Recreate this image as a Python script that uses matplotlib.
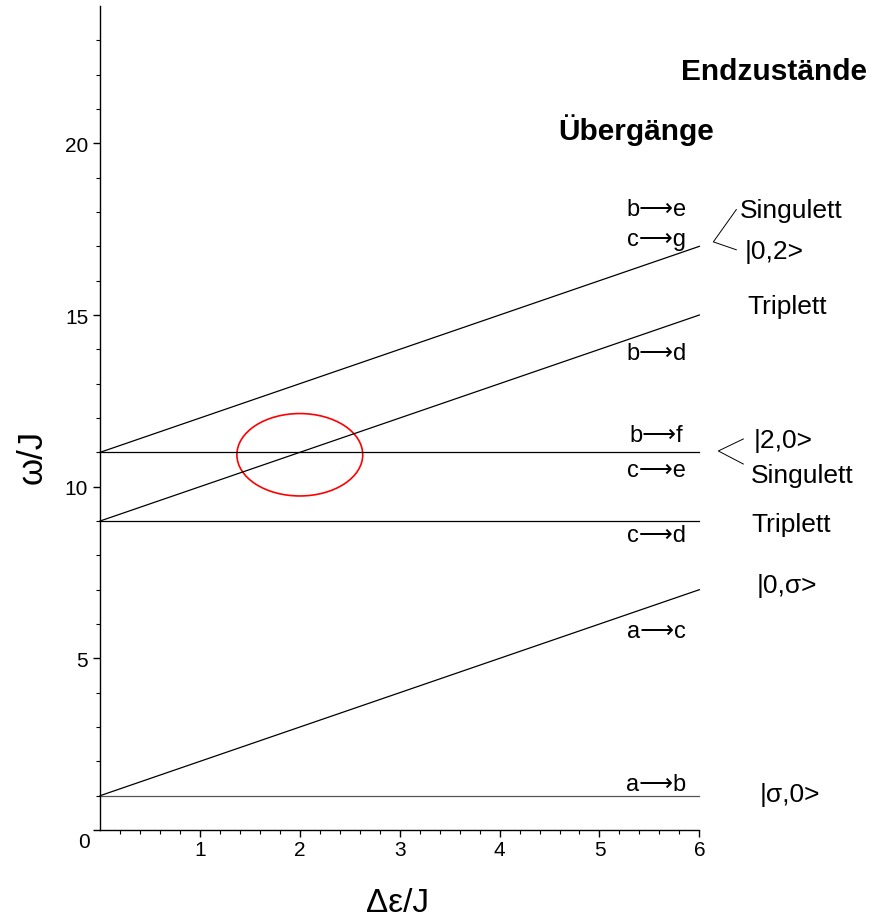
import matplotlib
matplotlib.use('Agg')
import matplotlib.pyplot as plt
from matplotlib.patches import Ellipse
import numpy as np

plt.rcParams['font.family'] = ['Liberation Sans', 'DejaVu Sans']

# transition lines: omega = offset + slope * delta_eps
x_range = [0, 6]
offsets = [1, 1, 9, 9, 11, 11]
slopes = [0, 1, 0, 1, 0, 1]
line_colors = ['#555555', 'black', 'black', 'black', 'black', 'black']

ARROW = '\u27f6'

# transition labels at the right end of the lines
trans_labels = ['b' + ARROW + 'e', 'c' + ARROW + 'g', 'b' + ARROW + 'd', 'b' + ARROW + 'f',
                'c' + ARROW + 'e', 'c' + ARROW + 'd', 'a' + ARROW + 'c', 'a' + ARROW + 'b']
trans_y = [18.1, 17.2, 13.9, 11.5, 10.5, 8.6, 5.8, 1.35]

# final state labels
state_labels = ['Singulett', '|0,2>', 'Triplett', '|2,0>', 'Singulett', 'Triplett', '|0,\u03c3>', '|\u03c3,0>']
state_x = [6.41, 6.45, 6.48, 6.54, 6.52, 6.52, 6.57, 6.6]
state_y = [18.05, 16.85, 15.25, 11.35, 10.35, 8.9, 7.15, 1.05]

fig = plt.figure(figsize=(8.73, 9.2), dpi=100)
ax = fig.add_axes([0.1146, 0.0967, 0.6865, 0.8957])

xs = np.array(x_range)
for off, sl, c in zip(offsets, slopes, line_colors):
    ax.plot(xs, off + sl * xs, color=c, lw=0.9, clip_on=False)

ax.add_patch(Ellipse((2.0, 10.93), 1.26, 2.4, fill=False, edgecolor='red', lw=1.2))

for lab, y in zip(trans_labels, trans_y):
    ax.text(5.57, y, lab, fontsize=17, ha='center', va='center', clip_on=False)
for lab, x, y in zip(state_labels, state_x, state_y):
    ax.text(x, y, lab, fontsize=19, ha='left', va='center', clip_on=False)

ax.text(5.82, 22.1, 'Endzustände', fontsize=21.5, fontweight='bold', ha='left', va='center', clip_on=False)
ax.text(4.59, 20.4, 'Übergänge', fontsize=21.5, fontweight='bold', ha='left', va='center', clip_on=False)

# leader brackets
ax.plot([6.37, 6.14, 6.37], [18.07, 17.13, 16.9], color='black', lw=0.7, clip_on=False)
ax.plot([6.44, 6.19, 6.44], [11.39, 11.04, 10.66], color='black', lw=0.7, clip_on=False)

ax.set_xlim(0, 6)
ax.set_ylim(0, 24)
for s in ['top', 'right']:
    ax.spines[s].set_visible(False)
for s in ['left', 'bottom']:
    ax.spines[s].set_linewidth(1.0)

ax.set_xticks([1, 2, 3, 4, 5, 6])
ax.set_xticks(np.arange(0.2, 6, 0.2), minor=True)
ax.set_yticks([0, 5, 10, 15, 20])
ax.set_yticklabels(['', '5', '10', '15', '20'])
ax.set_yticks(np.arange(1, 24, 1), minor=True)
ax.tick_params(which='major', direction='out', length=5, width=1, labelsize=15)
ax.tick_params(which='minor', direction='out', length=3, width=0.8)
ax.tick_params(axis='x', pad=2)
ax.annotate('0', (0, 0), xytext=(-11.5, -8), textcoords='offset points',
            fontsize=15, ha='center', va='center')

ax.set_xlabel('\u0394\u03b5/J', fontsize=24)
ax.set_ylabel('\u03c9/J', fontsize=25)
ax.xaxis.label.set_va('center')
ax.yaxis.label.set_va('center')
ax.xaxis.set_label_coords(0.496, -0.0885)
ax.yaxis.set_label_coords(-0.1135, 0.454)

plt.savefig('out.png', dpi=100)
